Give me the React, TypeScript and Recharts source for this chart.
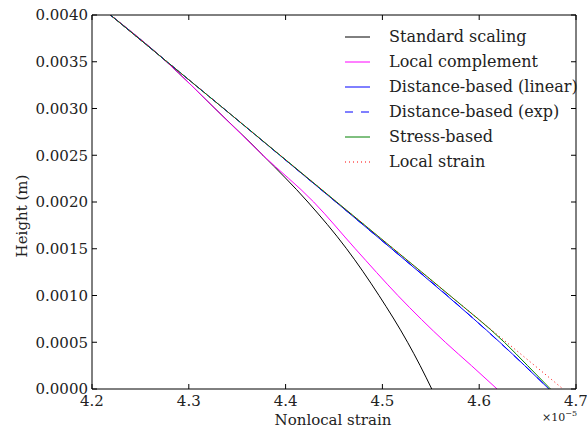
import React from "react";
import { LineChart, Line, XAxis, YAxis, Label } from "recharts";

const HEIGHTS = [0.004, 0.0035, 0.003, 0.0025, 0.002, 0.0015, 0.001, 0.0005, 0.00025, 0];

// nonlocal strain (x1e-5) per series, one value per height
const STANDARD_SCALING = [4.219, 4.277, 4.327, 4.3766, 4.423, 4.463, 4.4965, 4.526, 4.539, 4.551];
const LOCAL_COMPLEMENT = [4.219, 4.277, 4.327, 4.3766, 4.429, 4.472, 4.516, 4.565, 4.592, 4.6185];
const DISTANCE_LINEAR = [4.219, 4.2775, 4.336, 4.394, 4.452, 4.5095, 4.5665, 4.6213, 4.647, 4.672];
const DISTANCE_EXP = [4.219, 4.2775, 4.336, 4.394, 4.452, 4.5095, 4.567, 4.621, 4.647, 4.672];
const STRESS_BASED = [4.219, 4.2775, 4.336, 4.3944, 4.4528, 4.5113, 4.5697, 4.626, 4.65, 4.6736];
const LOCAL_STRAIN = [4.219, 4.2775, 4.336, 4.3944, 4.4528, 4.5113, 4.5697, 4.6282, 4.6574, 4.6866];

const X_TICKS = [4.2, 4.3, 4.4, 4.5, 4.6, 4.7];
const Y_TICKS = [0, 0.0005, 0.001, 0.0015, 0.002, 0.0025, 0.003, 0.0035, 0.004];

const FONT = "DejaVu Serif";
const TEXT = "#222";
const TICK_LEN = 5;

const SERIES = [
  { name: "Standard scaling", values: STANDARD_SCALING, color: "#000000", dash: undefined },
  { name: "Local complement", values: LOCAL_COMPLEMENT, color: "#ff00ff", dash: undefined },
  { name: "Distance-based (linear)", values: DISTANCE_LINEAR, color: "#0000ff", dash: undefined },
  { name: "Distance-based (exp)", values: DISTANCE_EXP, color: "#0000ff", dash: "8 8" },
  { name: "Stress-based", values: STRESS_BASED, color: "#008000", dash: undefined },
  { name: "Local strain", values: LOCAL_STRAIN, color: "#ff0000", dash: "1 3" },
];

const toPoints = (xs: number[]) => HEIGHTS.map((h, i) => ({ strain: xs[i], height: h }));

function BottomTick({ x, y, payload }: any) {
  return (
    <g>
      <line x1={x} y1={y} x2={x} y2={y - TICK_LEN} stroke="#000" />
      <text x={x} y={y + 17} textAnchor="middle" fontSize={15} fontFamily={FONT} fill={TEXT}>
        {payload.value.toFixed(1)}
      </text>
    </g>
  );
}

function TopTick({ x, y }: any) {
  return <line x1={x} y1={y} x2={x} y2={y + TICK_LEN} stroke="#000" />;
}

function LeftTick({ x, y, payload }: any) {
  return (
    <g>
      <line x1={x} y1={y} x2={x + TICK_LEN} y2={y} stroke="#000" />
      <text x={x - 4} y={y} dy="0.35em" textAnchor="end" fontSize={15} fontFamily={FONT} fill={TEXT}>
        {payload.value.toFixed(4)}
      </text>
    </g>
  );
}

function RightTick({ x, y }: any) {
  return <line x1={x} y1={y} x2={x - TICK_LEN} y2={y} stroke="#000" />;
}

function LegendBox() {
  return (
    <div
      style={{
        position: "absolute",
        left: 345,
        top: 24,
        fontFamily: FONT,
        fontSize: 16,
        color: TEXT,
        lineHeight: "25px",
      }}
    >
      {SERIES.map((s) => (
        <div key={s.name} style={{ display: "flex", alignItems: "center", height: 25 }}>
          <svg width={44} height={10} style={{ flex: "none" }}>
            <line x1={0} y1={5} x2={25} y2={5} stroke={s.color} strokeWidth={1} strokeDasharray={s.dash} />
          </svg>
          <span style={{ whiteSpace: "nowrap" }}>{s.name}</span>
        </div>
      ))}
    </div>
  );
}

export default function App() {
  return (
    <div style={{ position: "absolute", left: 0, top: 0, width: 587, height: 436, background: "#fff" }}>
      <LineChart width={587} height={436} margin={{ top: 14, right: 10, bottom: 7, left: 12 }}>
        <XAxis
          dataKey="strain"
          type="number"
          domain={[4.2, 4.7]}
          ticks={X_TICKS}
          allowDataOverflow
          height={40}
          tickSize={0}
          tickMargin={0}
          tickLine={false}
          axisLine={{ stroke: "#000" }}
          tick={BottomTick}
          interval={0}
        >
          <Label
            content={({ viewBox }: any) => (
              <g>
                <text
                  x={viewBox.x + viewBox.width / 2 - 1}
                  y={viewBox.y + 36}
                  textAnchor="middle"
                  fontSize={15}
                  fontFamily={FONT}
                  fill={TEXT}
                >
                  Nonlocal strain
                </text>
                <text
                  x={viewBox.x + viewBox.width + 1}
                  y={viewBox.y + 32}
                  textAnchor="end"
                  fontSize={11}
                  fontFamily={FONT}
                  fill={TEXT}
                >
                  ×10
                  <tspan fontSize={8} dy={-5}>
                    −5
                  </tspan>
                </text>
              </g>
            )}
          />
        </XAxis>
        <XAxis
          xAxisId="top"
          orientation="top"
          dataKey="strain"
          type="number"
          domain={[4.2, 4.7]}
          ticks={X_TICKS}
          allowDataOverflow
          height={1}
          tickSize={0}
          tickMargin={0}
          tickLine={false}
          axisLine={{ stroke: "#000" }}
          tick={TopTick}
          interval={0}
        />
        <YAxis
          dataKey="height"
          type="number"
          domain={[0, 0.004]}
          ticks={Y_TICKS}
          allowDataOverflow
          width={80}
          tickSize={0}
          tickMargin={0}
          tickLine={false}
          axisLine={{ stroke: "#000" }}
          tick={LeftTick}
          interval={0}
        >
          <Label
            content={({ viewBox }: any) => (
              <text
                x={22}
                y={viewBox.y + viewBox.height / 2 + 14}
                transform={`rotate(-90 22 ${viewBox.y + viewBox.height / 2 + 14})`}
                dy="0.35em"
                textAnchor="middle"
                fontSize={15}
                fontFamily={FONT}
                fill={TEXT}
              >
                Height (m)
              </text>
            )}
          />
        </YAxis>
        <YAxis
          yAxisId="right"
          orientation="right"
          dataKey="height"
          type="number"
          domain={[0, 0.004]}
          ticks={Y_TICKS}
          allowDataOverflow
          width={1}
          tickSize={0}
          tickMargin={0}
          tickLine={false}
          axisLine={{ stroke: "#000" }}
          tick={RightTick}
          interval={0}
        />
        {SERIES.map((s) => (
          <Line
            key={s.name}
            name={s.name}
            data={toPoints(s.values)}
            dataKey="height"
            type="monotone"
            stroke={s.color}
            strokeWidth={1}
            strokeDasharray={s.dash}
            dot={false}
            activeDot={false}
            isAnimationActive={false}
          />
        ))}
      </LineChart>
      <LegendBox />
    </div>
  );
}
